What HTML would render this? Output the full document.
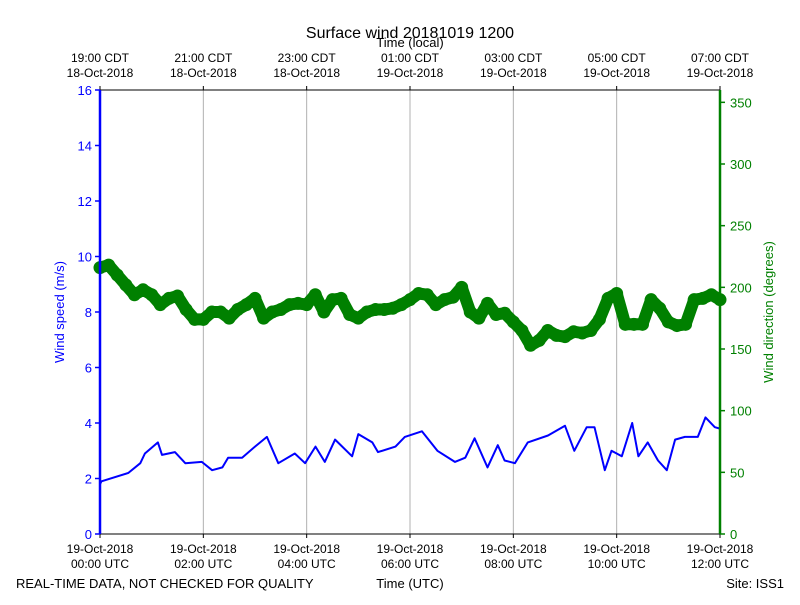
<!DOCTYPE html>
<html><head><meta charset="utf-8"><style>
body{margin:0;background:#fff}
svg{font-family:"Liberation Sans",sans-serif}
</style></head><body>
<svg id="chart" width="800" height="600" viewBox="0 0 800 600">
<text x="410" y="38" font-size="16" text-anchor="middle">Surface wind 20181019 1200</text>
<text x="410" y="47" font-size="13" text-anchor="middle">Time (local)</text>
<g id="grid"></g>
<g id="series"></g>
<g id="axes"></g>
<text x="64" y="312" font-size="13" fill="#0000ff" text-anchor="middle" transform="rotate(-90 64 312)">Wind speed (m/s)</text>
<text x="773" y="312" font-size="13" fill="#008000" text-anchor="middle" transform="rotate(-90 773 312)">Wind direction (degrees)</text>
<text x="16" y="588" font-size="13">REAL-TIME DATA, NOT CHECKED FOR QUALITY</text>
<text x="410" y="588" font-size="13" text-anchor="middle">Time (UTC)</text>
<text x="784" y="588" font-size="13" text-anchor="end">Site: ISS1</text>
</svg>
<script>
const speedTimes=[0,0.03,0.55,0.78,0.87,1.12,1.2,1.45,1.65,1.97,2.17,2.37,2.48,2.75,3.0,3.23,3.45,3.77,3.97,4.17,4.35,4.55,4.88,5.0,5.27,5.38,5.72,5.9,6.23,6.53,6.87,7.07,7.25,7.5,7.7,7.83,8.03,8.28,8.67,9.0,9.18,9.42,9.57,9.77,9.9,10.1,10.3,10.42,10.6,10.8,10.97,11.13,11.32,11.57,11.72,11.9,12.0];
const speedValues=[1.8,1.9,2.2,2.55,2.9,3.3,2.85,2.95,2.55,2.6,2.3,2.4,2.75,2.75,3.15,3.5,2.55,2.9,2.55,3.15,2.6,3.4,2.8,3.6,3.3,2.95,3.15,3.5,3.7,3.0,2.6,2.75,3.45,2.4,3.2,2.65,2.55,3.3,3.55,3.9,3.0,3.85,3.85,2.3,3.0,2.8,4.0,2.8,3.3,2.65,2.3,3.4,3.5,3.5,4.2,3.85,3.8];
const dirTimes=[];for(let i=0;i<=72;i++)dirTimes.push(i/6);
const dirValues=[216,218,210,202,194,198,194,186,191,193,182,174,174,180,180,175,182,186,191,175,180,182,186,187,186,194,180,190,191,178,175,180,182,182,183,186,190,195,194,186,190,192,200,180,175,187,178,179,172,165,153,157,165,161,160,164,163,165,174,191,195,170,170,170,190,183,172,169,170,190,191,194,190];
const leftTicks=[0,2,4,6,8,10,12,14,16];
const rightTicks=[0,50,100,150,200,250,300,350];
const utcTickHours=[0,2,4,6,8,10,12];
const utcLabels=["00:00 UTC","02:00 UTC","04:00 UTC","06:00 UTC","08:00 UTC","10:00 UTC","12:00 UTC"];
const localLabels=["19:00 CDT","21:00 CDT","23:00 CDT","01:00 CDT","03:00 CDT","05:00 CDT","07:00 CDT"];
const localDates=["18-Oct-2018","18-Oct-2018","18-Oct-2018","19-Oct-2018","19-Oct-2018","19-Oct-2018","19-Oct-2018"];

const L=100,R=720,T=90,B=534,NS="http://www.w3.org/2000/svg";
const xs=h=>L+(R-L)*h/12, ys=v=>B-(B-T)*v/16, yd=d=>B-(B-T)*d/360;
function mk(tag,attrs,parent,txt){const e=document.createElementNS(NS,tag);for(const k in attrs)e.setAttribute(k,attrs[k]);if(txt!==undefined)e.textContent=txt;parent.appendChild(e);return e;}
const grid=document.getElementById('grid'),ser=document.getElementById('series'),ax=document.getElementById('axes');
utcTickHours.forEach((h,i)=>{
 const x=xs(h);
 if(h>0&&h<12){const g=mk('line',{x1:x,x2:x,y1:T,y2:B,stroke:'#b0b0b0','stroke-width':1},grid);
 
 }
 mk('line',{x1:x,x2:x,y1:B,y2:B+4,stroke:'#000'},ax);
 mk('line',{x1:x,x2:x,y1:T,y2:T-4,stroke:'#000'},ax);
 const t1=mk('text',{x:x,y:553,'font-size':12,'text-anchor':'middle'},ax,'19-Oct-2018');
 
 
 const t2=mk('text',{x:x,y:568,'font-size':12,'text-anchor':'middle'},ax,utcLabels[i]);
 
 
 const t3=mk('text',{x:x,y:62,'font-size':12,'text-anchor':'middle'},ax,localLabels[i]);
 
 
 const t4=mk('text',{x:x,y:77,'font-size':12,'text-anchor':'middle'},ax,localDates[i]);
 
 
});
// direction
let dp='';dirTimes.forEach((t,i)=>{dp+=(i?'L':'M')+xs(t).toFixed(1)+','+yd(dirValues[i]).toFixed(1);});
const dl=mk('path',{d:dp,fill:'none',stroke:'#008000','stroke-width':12,'stroke-linecap':'round','stroke-linejoin':'round'},ser);


dirTimes.forEach((t,i)=>{const c=mk('circle',{cx:xs(t),cy:yd(dirValues[i]),r:6.5,fill:'#008000'},ser);
 
 });
// speed
let sp='';speedTimes.forEach((t,i)=>{sp+=(i?'L':'M')+xs(t).toFixed(1)+','+ys(speedValues[i]).toFixed(1);});
const sl=mk('path',{d:sp,fill:'none',stroke:'#0000ff','stroke-width':2,'stroke-linejoin':'round'},ser);


// spines
mk('line',{x1:L,x2:R,y1:T,y2:T,stroke:'#000'},ax);
mk('line',{x1:L,x2:R,y1:B,y2:B,stroke:'#000'},ax);
const la=mk('line',{x1:L,x2:L,y1:T,y2:B,stroke:'#0000ff','stroke-width':2.5},ax);


const ra=mk('line',{x1:R,x2:R,y1:T,y2:B,stroke:'#008000','stroke-width':2.5},ax);


leftTicks.forEach(v=>{const y=ys(v);mk('line',{x1:L-5,x2:L,y1:y,y2:y,stroke:'#0000ff','stroke-width':1.5},ax);
 const t=mk('text',{x:L-8,y:y+5,'font-size':13,'text-anchor':'end',fill:'#0000ff'},ax,String(v));
 
 });
rightTicks.forEach(v=>{const y=yd(v);mk('line',{x1:R,x2:R+5,y1:y,y2:y,stroke:'#008000','stroke-width':1.5},ax);
 const t=mk('text',{x:R+10,y:y+5,'font-size':13,fill:'#008000'},ax,String(v));
 
 });
</script>
</body></html>
